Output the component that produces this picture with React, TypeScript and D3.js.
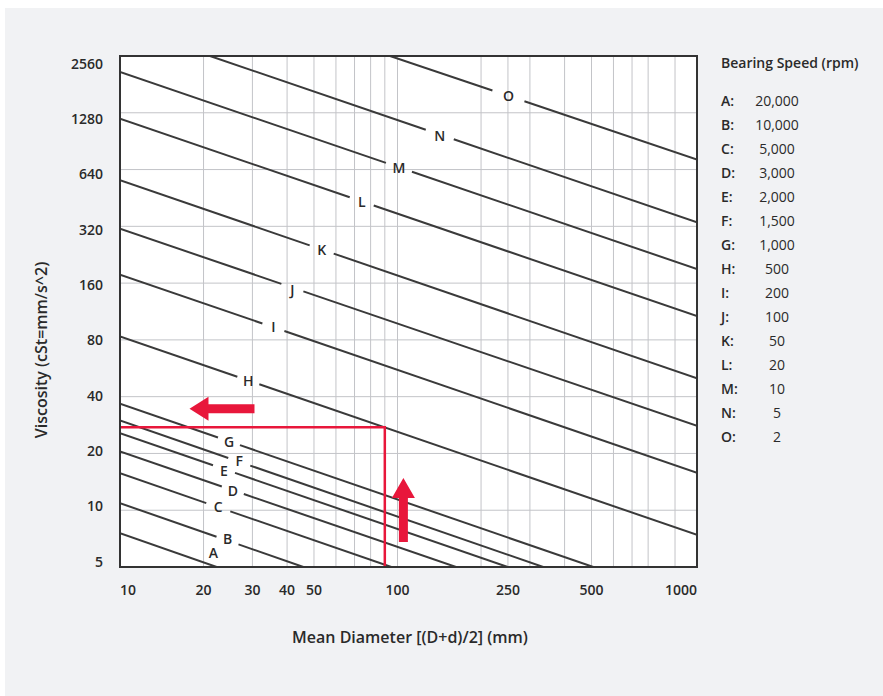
import React from "react";
import * as d3 from "d3";

// ---- data ----
const lineLetters = ["A", "B", "C", "D", "E", "F", "G", "H", "I", "J", "K", "L", "M", "N", "O"];
const speedTexts = ["20,000", "10,000", "5,000", "3,000", "2,000", "1,500", "1,000", "500", "200", "100", "50", "20", "10", "5", "2"];
const startDiameter = [10, 10, 10, 10, 10, 10, 10, 10, 10, 10, 10, 10, 10, 21.1, 94];
const startViscosity = [7.55, 10.9, 15.7, 20.5, 25.6, 29.9, 36.7, 83.5, 177.5, 311, 562, 1191, 2105, 2560, 2560];
const endDiameter = [22.3, 45.8, 95, 162.5, 249.5, 335, 507.6, 1200, 1200, 1200, 1200, 1200, 1200, 1200, 1200];
const endViscosity = [5, 5, 5, 5, 5, 5, 5, 7.4, 15.8, 28, 50, 107, 190, 336, 724];
const labelDiameter = [21.7, 24.4, 22.6, 25.5, 23.7, 26.9, 24.7, 29.0, 35.7, 41.8, 53.3, 74.3, 101.2, 142, 251];
const labelViscosity = [5.9, 7.0, 10.4, 12.7, 16.2, 18.3, 23.1, 48.2, 93.7, 148, 241, 432, 654, 963, 1570];
const labelGap = [0, 11, 12, 11, 11, 11, 11, 11, 11, 11, 12, 12, 13, 14, 16];

const xGridValues = [20, 30, 40, 50, 60, 70, 80, 90, 100, 200, 250, 300, 400, 500, 600, 700, 800, 1000];
const xTickValues = [10, 20, 30, 40, 50, 100, 250, 500, 1000];
const yTickValues = [5, 10, 20, 40, 80, 160, 320, 640, 1280, 2560];

const exampleDiameter = 90;
const exampleViscosity = 27.5;
const leftArrowTip = { d: 17.8, v: 34.5 };
const upArrowTip = { d: 105, v: 14.8 };

const FONT = "'Open Sans', 'Noto Sans', sans-serif";
const RED = "#e8173b";
const INK = "#2a2a2a";

export default function App() {
  const W = 883;
  const H = 696;
  const x = d3.scaleLog().domain([10, 1200]).range([120, 697]);
  const y = d3.scaleLog().base(2).domain([5, 2560]).range([567, 56]);
  const yLab = d3.scaleLog().base(2).domain([5, 2560]).range([561.5, 63.5]);
  const [x0, x1] = x.range();
  const [yb, yt] = y.range();

  const line = d3.line<[number, number]>().x((p) => p[0]).y((p) => p[1]);

  const series = lineLetters.map((letter, i) => {
    const p0: [number, number] = [x(startDiameter[i]), y(startViscosity[i])];
    const p1: [number, number] = [x(endDiameter[i]), y(endViscosity[i])];
    const lx = x(labelDiameter[i]);
    const ly = y(labelViscosity[i]);
    const at = (px: number): [number, number] => {
      const t = (px - p0[0]) / (p1[0] - p0[0]);
      return [px, p0[1] + t * (p1[1] - p0[1])];
    };
    const g = labelGap[i];
    const segs: [number, number][][] =
      g > 0 ? [[p0, at(lx - g)], [at(lx + g), p1]] : [[p0, p1]];
    return { letter, segs, lx, ly };
  });

  // arrows
  const la = { x: x(leftArrowTip.d), y: y(leftArrowTip.v) };
  const leftArrow = d3.path();
  leftArrow.moveTo(la.x, la.y);
  leftArrow.lineTo(la.x + 19, la.y - 12);
  leftArrow.lineTo(la.x + 19, la.y - 4.5);
  leftArrow.lineTo(la.x + 65, la.y - 4.5);
  leftArrow.lineTo(la.x + 65, la.y + 4.5);
  leftArrow.lineTo(la.x + 19, la.y + 4.5);
  leftArrow.lineTo(la.x + 19, la.y + 12);
  leftArrow.closePath();

  const ua = { x: x(upArrowTip.d), y: y(upArrowTip.v) };
  const upArrow = d3.path();
  upArrow.moveTo(ua.x, ua.y);
  upArrow.lineTo(ua.x + 11.5, ua.y + 20);
  upArrow.lineTo(ua.x + 4.5, ua.y + 20);
  upArrow.lineTo(ua.x + 4.5, ua.y + 64);
  upArrow.lineTo(ua.x - 4.5, ua.y + 64);
  upArrow.lineTo(ua.x - 4.5, ua.y + 20);
  upArrow.lineTo(ua.x - 11.5, ua.y + 20);
  upArrow.closePath();

  return (
    <svg
      width={W}
      height={H}
      style={{ position: "absolute", left: 0, top: 0, display: "block" }}
      fontFamily={FONT}
    >
      <rect x={0} y={0} width={W} height={H} fill="#ffffff" />
      <rect x={5} y={8} width={W - 5} height={H - 8} fill="#f1f2f4" />
      <rect x={x0} y={yt} width={x1 - x0} height={yb - yt} fill="#ffffff" />
      <defs>
        <clipPath id="plotClip">
          <rect x={x0} y={yt} width={x1 - x0} height={yb - yt} />
        </clipPath>
      </defs>

      {/* grid */}
      <g stroke="#c3c4c8" strokeWidth={1}>
        {xGridValues.map((v) => (
          <line key={"gx" + v} x1={x(v)} x2={x(v)} y1={yt} y2={yb} />
        ))}
        {yTickValues.slice(1, -1).map((v) => (
          <line key={"gy" + v} x1={x0} x2={x1} y1={y(v)} y2={y(v)} />
        ))}
      </g>

      {/* speed lines */}
      <g clipPath="url(#plotClip)" stroke="#3a3a3a" strokeWidth={2} fill="none">
        {series.map((s) =>
          s.segs.map((seg, j) => <path key={s.letter + j} d={line(seg) || ""} />)
        )}
      </g>
      <g fontSize={14} fontWeight={600} fill={INK} textAnchor="middle">
        {series.map((s) => (
          <text key={"l" + s.letter} x={s.lx} y={s.ly} dy="0.36em">
            {s.letter}
          </text>
        ))}
      </g>

      {/* red example */}
      <path
        d={line([
          [x0, y(exampleViscosity)],
          [x(exampleDiameter), y(exampleViscosity)],
          [x(exampleDiameter), yb],
        ]) || ""}
        stroke={RED}
        strokeWidth={2.5}
        fill="none"
      />
      <path d={leftArrow.toString()} fill={RED} />
      <path d={upArrow.toString()} fill={RED} />

      {/* frame */}
      <rect x={x0} y={yt} width={x1 - x0} height={yb - yt} fill="none" stroke="#333333" strokeWidth={2} />

      {/* y tick labels */}
      <g fontSize={14} fontWeight={600} fill={INK} textAnchor="end">
        {yTickValues.map((v) => (
          <text key={"yt" + v} x={103} y={yLab(v)} dy="0.36em">
            {v}
          </text>
        ))}
      </g>
      {/* x tick labels */}
      <g fontSize={14} fontWeight={600} fill={INK}>
        {xTickValues.map((v, i) => {
          const first = i === 0;
          const last = i === xTickValues.length - 1;
          return (
            <text
              key={"xt" + v}
              x={last ? x1 : x(v)}
              y={590}
              dy="0.36em"
              textAnchor={first ? "start" : last ? "end" : "middle"}
            >
              {v}
            </text>
          );
        })}
      </g>

      {/* axis titles */}
      <text x={410} y={637} dy="0.36em" textAnchor="middle" fontSize={16} fontWeight={600} fill={INK}>
        Mean Diameter [(D+d)/2] (mm)
      </text>
      <text
        transform="translate(41,350) rotate(-90)"
        dy="0.36em"
        textAnchor="middle"
        fontSize={16}
        fontWeight={600}
        fill={INK}
      >
        Viscosity (cSt=mm/s^2)
      </text>

      {/* legend */}
      <text x={721} y={63} dy="0.36em" fontSize={14} fontWeight={600} fill={INK}>
        Bearing Speed (rpm)
      </text>
      <g fontSize={14} fill={INK}>
        {lineLetters.map((l, i) => (
          <g key={"lg" + l}>
            <text x={721} y={101 + i * 24} dy="0.36em" fontWeight={600}>
              {l}:
            </text>
            <text x={777} y={101 + i * 24} dy="0.36em" textAnchor="middle">
              {speedTexts[i]}
            </text>
          </g>
        ))}
      </g>
    </svg>
  );
}
